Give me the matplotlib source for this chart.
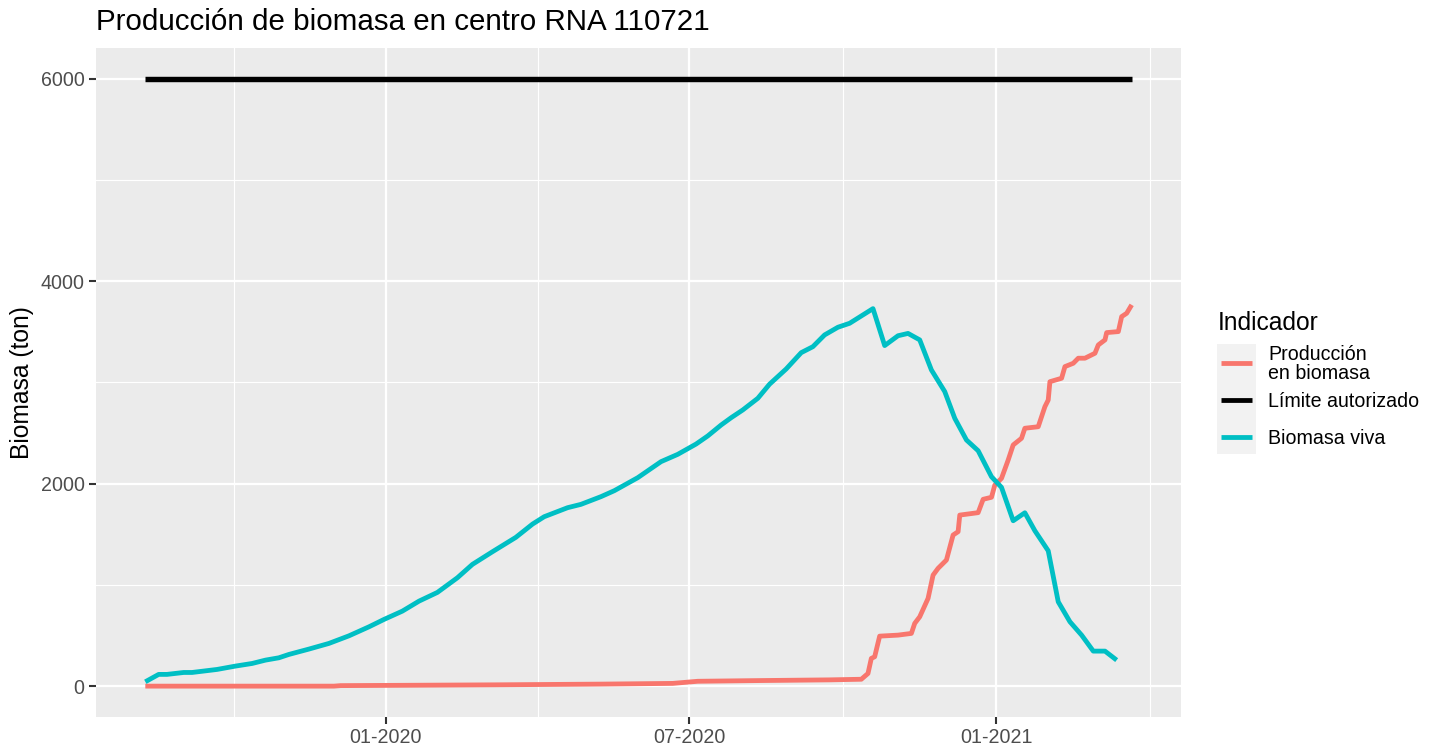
import numpy as np
import pandas as pd
import matplotlib.pyplot as plt
import matplotlib.dates as mdates
from matplotlib.lines import Line2D
from matplotlib.patches import Rectangle

plt.rcParams['font.family'] = ['Liberation Sans', 'DejaVu Sans']

# Biomasa viva (ton), aprox. semanal
fechas_viva = ['2019-08-10', '2019-08-18', '2019-08-23', '2019-09-02', '2019-09-07',
               '2019-09-22', '2019-10-03', '2019-10-13', '2019-10-21', '2019-10-29',
               '2019-11-04', '2019-11-16', '2019-11-28', '2019-12-10', '2019-12-22',
               '2019-12-31', '2020-01-11', '2020-01-21', '2020-02-01', '2020-02-13',
               '2020-02-22', '2020-03-05', '2020-03-19', '2020-03-29', '2020-04-05',
               '2020-04-19', '2020-04-27', '2020-05-09', '2020-05-17', '2020-05-31',
               '2020-06-14', '2020-06-24', '2020-07-05', '2020-07-12', '2020-07-20',
               '2020-07-26', '2020-08-02', '2020-08-11', '2020-08-18', '2020-08-28',
               '2020-09-06', '2020-09-13', '2020-09-20', '2020-09-28', '2020-10-05',
               '2020-10-19', '2020-10-26', '2020-11-03', '2020-11-09', '2020-11-16',
               '2020-11-23', '2020-12-01', '2020-12-07', '2020-12-14', '2020-12-21',
               '2020-12-29', '2021-01-04', '2021-01-11', '2021-01-18', '2021-01-24',
               '2021-02-01', '2021-02-07', '2021-02-14', '2021-02-21', '2021-02-28',
               '2021-03-07', '2021-03-14']
biomasa_viva = [43, 116, 116, 135, 135,
                165, 198, 224, 257, 280,
                313, 366, 422, 497, 586,
                659, 741, 840, 926, 1071,
                1203, 1328, 1470, 1601, 1674,
                1763, 1796, 1872, 1931, 2059,
                2218, 2290, 2392, 2472, 2580,
                2652, 2729, 2844, 2983, 3134,
                3295, 3354, 3470, 3546, 3585,
                3730, 3365, 3462, 3485, 3421,
                3124, 2910, 2646, 2432, 2326,
                2069, 1964, 1634, 1713, 1535,
                1337, 833, 636, 504, 346,
                346, 257]

# Produccion acumulada en biomasa (ton)
fechas_prod = ['2019-08-10', '2019-12-01', '2019-12-05', '2020-03-07', '2020-05-09',
               '2020-06-21', '2020-07-06', '2020-08-12', '2020-09-23', '2020-10-12',
               '2020-10-16', '2020-10-18', '2020-10-20', '2020-10-23', '2020-11-03',
               '2020-11-11', '2020-11-13', '2020-11-16', '2020-11-21', '2020-11-24',
               '2020-11-27', '2020-12-02', '2020-12-06', '2020-12-09', '2020-12-10',
               '2020-12-21', '2020-12-24', '2020-12-29', '2020-12-31', '2021-01-04',
               '2021-01-08', '2021-01-11', '2021-01-16', '2021-01-18', '2021-01-26',
               '2021-01-30', '2021-02-01', '2021-02-02', '2021-02-09', '2021-02-11',
               '2021-02-16', '2021-02-19', '2021-02-23', '2021-03-01', '2021-03-03',
               '2021-03-07', '2021-03-08', '2021-03-15', '2021-03-17', '2021-03-20',
               '2021-03-23']
produccion = [0, 0, 5, 13, 20,
              27, 48, 55, 62, 68,
              125, 274, 290, 494, 504,
              521, 620, 685, 867, 1097,
              1164, 1246, 1493, 1526, 1690,
              1714, 1846, 1866, 1987, 2053,
              2234, 2383, 2449, 2548, 2563,
              2761, 2827, 3008, 3042, 3157,
              3190, 3240, 3240, 3289, 3371,
              3421, 3493, 3503, 3651, 3684,
              3767]

# Limite autorizado
fechas_lim = ['2019-08-10', '2021-03-23']
limite = [6000, 6000]

series = ['Producción\nen biomasa', 'Límite autorizado', 'Biomasa viva']
colores = ['#F8766D', 'black', '#00BFC4']

fv = pd.to_datetime(fechas_viva)
fp = pd.to_datetime(fechas_prod)
fl = pd.to_datetime(fechas_lim)

W, H = 1432, 747
fig = plt.figure(figsize=(W / 150, H / 150), dpi=150)
ax = fig.add_axes([96 / W, 1 - 716.5 / H, (1181 - 96) / W, (716.5 - 48.5) / H])
ax.set_facecolor('#EBEBEB')

lw = 2.3
ax.plot(fp, produccion, color=colores[0], lw=lw, solid_joinstyle='round', solid_capstyle='butt', zorder=3)
ax.plot(fl, limite, color=colores[1], lw=lw + 0.3, solid_capstyle='butt', zorder=3)
ax.plot(fv, biomasa_viva, color=colores[2], lw=lw, solid_joinstyle='round', solid_capstyle='butt', zorder=3)

# escalas estilo ggplot (expansion 5%)
x0 = mdates.date2num(min(fl[0], fp[0], fv[0]))
x1 = mdates.date2num(max(fl[-1], fp[-1], fv[-1]))
pad = (x1 - x0) * 0.05
ax.set_xlim(x0 - pad, x1 + pad)
ax.set_ylim(-300, 6300)

majors = mdates.date2num(pd.to_datetime(['2020-01-01', '2020-07-01', '2021-01-01']))
minors = [majors[0] - (majors[1] - majors[0]) / 2,
          (majors[0] + majors[1]) / 2,
          (majors[1] + majors[2]) / 2,
          majors[2] + (majors[2] - majors[1]) / 2]
ax.set_xticks(majors)
ax.set_xticks(minors, minor=True)
ax.xaxis.set_major_formatter(mdates.DateFormatter('%m-%Y'))
ax.set_yticks([0, 2000, 4000, 6000])
ax.set_yticks([1000, 3000, 5000], minor=True)

ax.grid(which='major', color='white', lw=1.1, zorder=1)
ax.grid(which='minor', color='white', lw=0.55, zorder=1)
ax.set_axisbelow(True)
for s in ax.spines.values():
    s.set_visible(False)
ax.tick_params(which='major', length=3.3, width=1.0, color='#333333',
               labelsize=9.4, labelcolor='#4D4D4D', pad=2.2)
ax.tick_params(which='minor', length=0)

ax.set_ylabel('Biomasa (ton)', fontsize=11.8, color='black', labelpad=3)
fig.text(96 / W, 1 - 22 / H, 'Producción de biomasa en centro RNA 110721',
         fontsize=14.2, ha='left', va='center')

# leyenda
lax = fig.add_axes([0, 0, 1, 1])
lax.set_xlim(0, W)
lax.set_ylim(H, 0)
lax.axis('off')
lax.patch.set_alpha(0)
lax.text(1218, 323, 'Indicador', fontsize=11.8, ha='left', va='center')
lax.add_patch(Rectangle((1217, 344), 39, 110, facecolor='#F2F2F2', edgecolor='none'))
key_y = [363, 400, 437]
for yk, nombre, c in zip(key_y, series, colores):
    lax.add_line(Line2D([1221, 1252], [yk, yk], color=c, lw=lw, solid_capstyle='butt'))
    lax.text(1268, yk + 1, nombre, fontsize=9.4, ha='left', va='center', linespacing=1.05)

fig.savefig('out.png', dpi=150)
